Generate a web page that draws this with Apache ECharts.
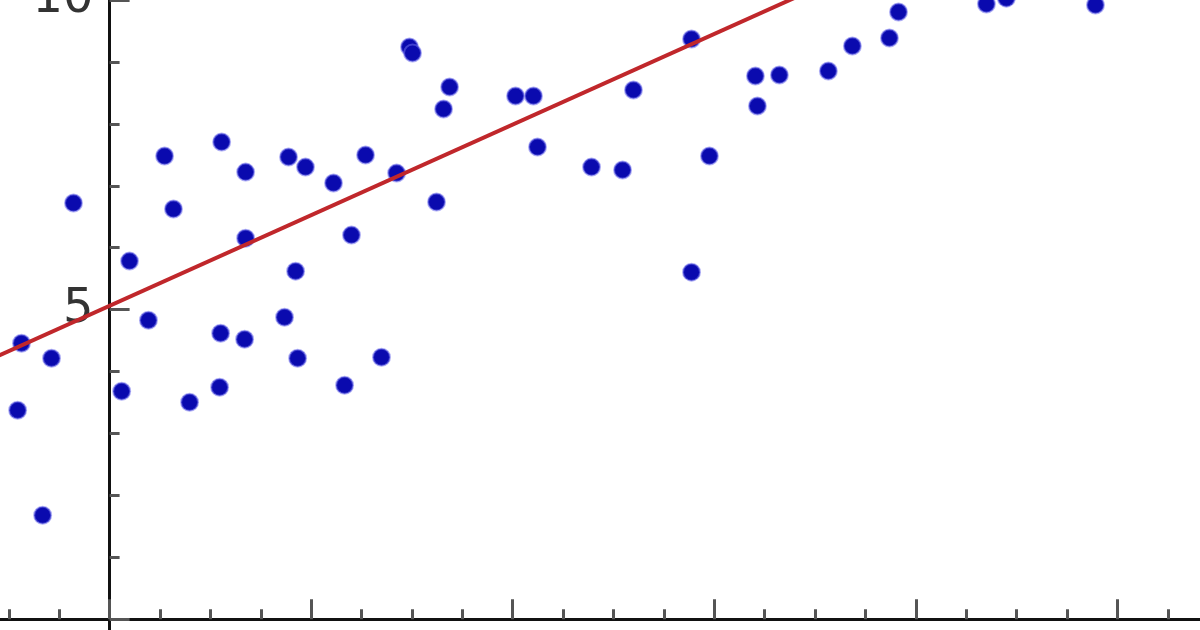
<!DOCTYPE html>
<html>
<head>
<meta charset="utf-8">
<script src="https://cdn.jsdelivr.net/npm/echarts@6/dist/echarts.min.js"></script>
<style>
html,body{margin:0;padding:0;background:#fff;width:1200px;height:630px;overflow:hidden;position:relative;}
#chart{position:absolute;left:-91.6px;top:0;width:1411.2px;height:928.5px;}
</style>
</head>
<body>
<div id="chart"></div>
<script>
// Observed points (x, y)
const pointX = [-0.456,-0.437,-0.332,-0.288,-0.179,0.060,0.099,0.193,0.273,0.317,0.397,0.546,0.551,0.556,0.670,0.675,0.675,0.868,0.888,0.923,0.933,0.972,1.111,1.166,1.200,1.270,1.349,1.424,1.488,1.503,1.622,1.657,1.687,2.014,2.103,2.123,2.391,2.545,2.599,2.887,2.887,2.976,3.204,3.214,3.323,3.566,3.685,3.869,3.914,4.350,4.449,4.891];
const pointY = [3.376,4.459,1.680,4.216,6.721,3.683,5.784,4.830,7.480,6.624,3.506,3.748,4.620,7.706,4.523,7.221,6.155,4.879,7.464,5.622,4.216,7.302,7.044,3.780,6.204,7.496,4.233,7.205,9.241,9.144,6.737,8.239,8.595,8.449,8.449,7.625,7.302,7.254,8.546,9.370,5.606,7.480,8.772,8.288,8.788,8.853,9.257,9.386,9.806,9.935,10.030,9.919];
// Fitted regression line endpoints
const fitX = [-1, 4];
const fitY = [3.600, 10.915];
// Y tick labels shown
const yLabels = ['5', '10'];

const chart = echarts.init(document.getElementById('chart'), null, {renderer:'canvas'});
const scatterData = pointX.map((x,i)=>[x, pointY[i]]);
const lineData = fitX.map((x,i)=>[x, fitY[i]]);

chart.setOption({
  animation:false,
  backgroundColor:'#ffffff',
  grid:{left:0, right:0, top:0, bottom:0, containLabel:false, outerBoundsMode:'none'},
  xAxis:{
    type:'value', min:-1, max:6, interval:1,
    axisLine:{onZero:true, lineStyle:{color:'#111', width:3}},
    axisTick:{inside:true, length:20, lineStyle:{color:'#555', width:3}},
    minorTick:{show:true, splitNumber:4, length:10, lineStyle:{color:'#555', width:3}},
    axisLabel:{show:false},
    splitLine:{show:false}
  },
  yAxis:{
    type:'value', min:-5, max:10, interval:5, position:'left', offset:-201.6,
    axisLine:{show:true, onZero:false, lineStyle:{color:'#111', width:3}},
    axisTick:{show:true, inside:true, length:20, lineStyle:{color:'#555', width:3}},
    minorTick:{show:true, splitNumber:5, length:10, lineStyle:{color:'#555', width:3}},
    axisLabel:{
      show:true, margin:16, fontSize:48, color:'#333', fontFamily:'DejaVu Sans',
      showMinLabel:true, showMaxLabel:true,
      formatter:function(v){ const s = String(Math.round(Number(v))); return yLabels.indexOf(s) >= 0 ? s : ''; }
    },
    splitLine:{show:false}
  },
  series:[
    {
      type:'scatter', data:scatterData, symbol:'circle', symbolSize:17, clip:false,
      itemStyle:{color:'#0a0aae', borderColor:'rgba(110,110,235,0.55)', borderWidth:2, opacity:1},
      z:2
    },
    {
      type:'line', data:lineData, symbol:'none', clip:true,
      lineStyle:{color:'#c0272b', width:4},
      z:3
    }
  ]
});
</script>
</body>
</html>
